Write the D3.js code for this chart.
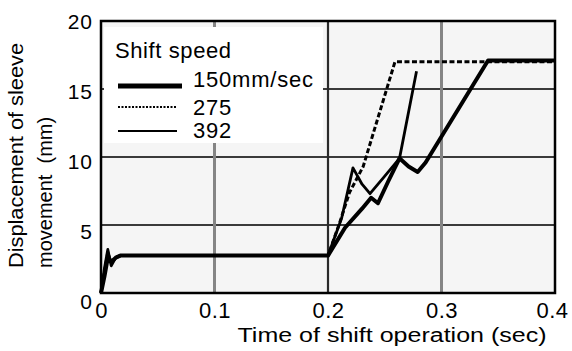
<!DOCTYPE html>
<html>
<head>
<meta charset="utf-8">
<script src="https://cdn.jsdelivr.net/npm/d3@7"></script>
<style>
    body { margin: 0; background: #fff; }
    svg { display: block; }
    text { font-family: "Liberation Sans", Arial, sans-serif; fill: #000; }
</style>
</head>
<body>
<svg id="chart" width="572" height="351"></svg>
<script>
// tick values
const xTicks = [0, 0.1, 0.2, 0.3, 0.4];
const yTicks = [0, 5, 10, 15, 20];

// series: time (sec) / displacement (mm)
const t150 = [0, 0.003, 0.006, 0.009, 0.013, 0.017, 0.2, 0.215, 0.23, 0.238, 0.244, 0.253, 0.263, 0.271, 0.279, 0.286, 0.341, 0.4];
const v150 = [0, 1.2, 2.6, 2.3, 2.6, 2.75, 2.75, 4.8, 6.2, 7.0, 6.6, 8.2, 9.9, 9.3, 8.9, 9.6, 17.1, 17.1];

const t275 = [0, 0.003, 0.006, 0.009, 0.013, 0.017, 0.2, 0.21, 0.219, 0.231, 0.259, 0.4];
const v275 = [0, 1.5, 3.0, 2.2, 2.6, 2.75, 2.75, 5.1, 7.4, 9.3, 17.0, 17.0];

const t392 = [0, 0.003, 0.006, 0.009, 0.013, 0.017, 0.2, 0.212, 0.222, 0.23, 0.237, 0.25, 0.263, 0.278];
const v392 = [0, 1.8, 3.2, 2.0, 2.6, 2.75, 2.75, 5.5, 9.2, 8.0, 7.3, 8.6, 9.9, 16.3];

const seriesNames = ['150mm/sec', '275', '392'];

const svg = d3.select('#chart');
const plotLeft = 101, plotRight = 555, plotTop = 21, plotBottom = 293;

const x = d3.scaleLinear().domain([0, 0.4]).range([plotLeft, plotRight]);
const y = d3.scaleLinear().domain([0, 20]).range([plotBottom, plotTop]);

// plot background
svg.append('rect')
    .attr('x', plotLeft).attr('y', plotTop)
    .attr('width', plotRight - plotLeft).attr('height', plotBottom - plotTop)
    .attr('fill', '#f5f5f5');

// grid
svg.append('g')
    .selectAll('line')
    .data(yTicks.filter(d => d > 0 && d < 20))
    .enter()
    .append('line')
    .attr('x1', plotLeft).attr('x2', plotRight)
    .attr('y1', d => y(d)).attr('y2', d => y(d))
    .attr('stroke', '#3a3a3a')
    .attr('stroke-width', 2.2);

svg.append('g')
    .selectAll('line')
    .data(xTicks.filter(d => d > 0 && d < 0.4))
    .enter()
    .append('line')
    .attr('x1', d => x(d)).attr('x2', d => x(d))
    .attr('y1', plotTop).attr('y2', plotBottom)
    .attr('stroke', d => d === 0.2 ? '#2a2a2a' : '#858585')
    .attr('stroke-width', d => d === 0.2 ? 2.2 : 3);

// legend box (covers grid)
svg.append('rect')
    .attr('x', 104).attr('y', 27)
    .attr('width', 219).attr('height', 116)
    .attr('fill', '#fff');

// curves
const line = d3.line().x(d => x(d[0])).y(d => y(d[1]));
const series = [
    {pts: d3.zip(t275, v275), width: 3, dash: '5,2.5'},
    {pts: d3.zip(t392, v392), width: 2.8, dash: null},
    {pts: d3.zip(t150, v150), width: 4, dash: null}
];
svg.append('g')
    .selectAll('path')
    .data(series)
    .enter()
    .append('path')
    .attr('d', d => line(d.pts))
    .attr('fill', 'none')
    .attr('stroke', '#000')
    .attr('stroke-width', d => d.width)
    .attr('stroke-dasharray', d => d.dash)
    .attr('stroke-linejoin', 'round');

// frame
svg.append('rect')
    .attr('x', plotLeft).attr('y', plotTop)
    .attr('width', plotRight - plotLeft).attr('height', plotBottom - plotTop)
    .attr('fill', 'none')
    .attr('stroke', '#000')
    .attr('stroke-width', 2.5);

// axes (labels only)
const xAxis = svg.append('g')
    .attr('transform', `translate(0, ${plotBottom})`)
    .call(d3.axisBottom(x).tickValues(xTicks).tickSize(0).tickPadding(0)
        .tickFormat(d => d === 0 ? '0' : d3.format('.1f')(d)));
xAxis.select('.domain').remove();
xAxis.selectAll('text')
    .attr('y', 25).attr('dy', 0)
    .attr('dx', d => d === 0.4 ? -3 : 0)
    .attr('font-size', 22)
    .attr('letter-spacing', 0.5)
    .attr('font-family', '"Liberation Sans", Arial, sans-serif');

const yAxis = svg.append('g')
    .attr('transform', `translate(${plotLeft}, 0)`)
    .call(d3.axisLeft(y).tickValues(yTicks).tickSize(0).tickPadding(0));
yAxis.select('.domain').remove();
yAxis.selectAll('text')
    .attr('x', -8)
    .attr('dy', d => (7.5 + (20 - d) * 0.4) + 'px')
    .attr('font-size', 21)
    .attr('letter-spacing', 1)
    .attr('font-family', '"Liberation Sans", Arial, sans-serif');

// titles
svg.append('text')
    .attr('x', 392).attr('y', 342)
    .attr('text-anchor', 'middle')
    .attr('font-size', 20)
    .attr('textLength', 309)
    .attr('lengthAdjust', 'spacingAndGlyphs')
    .text('Time of shift operation (sec)');

svg.append('text')
    .attr('transform', 'translate(23, 268) rotate(-90)')
    .attr('font-size', 20)
    .attr('textLength', 225)
    .attr('lengthAdjust', 'spacingAndGlyphs')
    .text('Displacement of sleeve');

svg.append('text')
    .attr('transform', 'translate(52, 268) rotate(-90)')
    .attr('font-size', 20)
    .style('white-space', 'pre')
    .text('movement  (mm)');

// legend
svg.append('text')
    .attr('x', 115).attr('y', 58)
    .attr('font-size', 22)
    .attr('letter-spacing', 0.6)
    .text('Shift speed');

const legendY = [86, 107, 131];
const legendW = [5, 2, 2];
const legendDash = [null, '2,1.5', null];
const legendEnd = [182, 177, 177];
const legendText = [87, 115, 138];
const lg = svg.append('g')
    .selectAll('g')
    .data(seriesNames)
    .enter()
    .append('g');
lg.append('line')
    .attr('x1', 118).attr('x2', (_, i) => legendEnd[i])
    .attr('y1', (_, i) => legendY[i]).attr('y2', (_, i) => legendY[i])
    .attr('stroke', '#000')
    .attr('stroke-width', (_, i) => legendW[i])
    .attr('stroke-dasharray', (_, i) => legendDash[i]);
lg.append('text')
    .attr('x', 193).attr('y', (_, i) => legendText[i])
    .attr('font-size', 22)
    .attr('letter-spacing', 0.8)
    .text(d => d);
</script>
</body>
</html>
